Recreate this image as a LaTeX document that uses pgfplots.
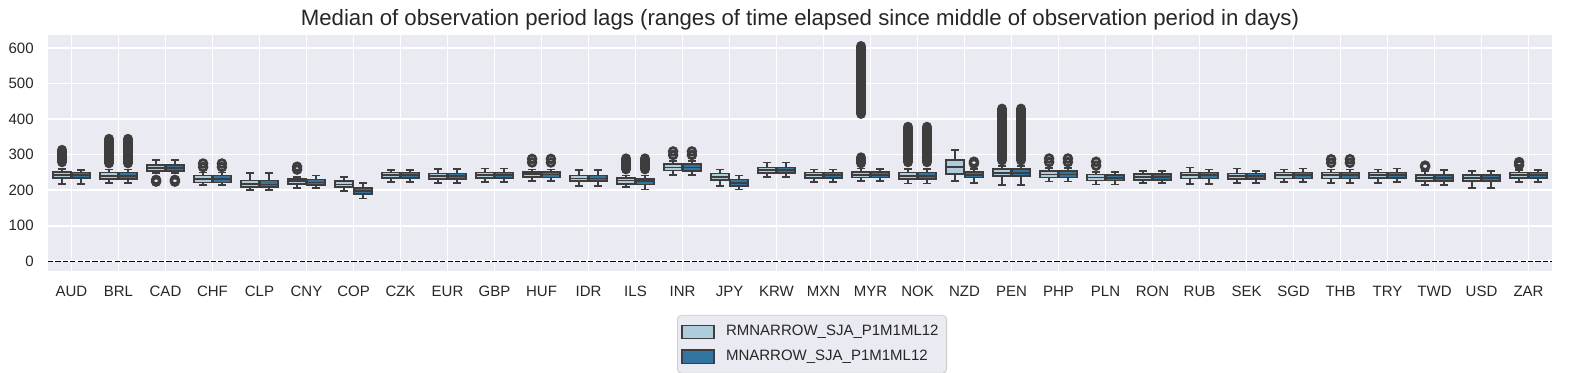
\documentclass[border=0pt]{standalone}
\usepackage{fontspec}
\setmainfont{Liberation Sans}
\usepackage{pgfplots}
\pgfplotsset{compat=1.18}
\definecolor{bg}{HTML}{EAEAF2}
\definecolor{lc}{HTML}{AECCDB}
\definecolor{dc}{HTML}{3275A1}
\definecolor{gc}{HTML}{3D3D3D}
\definecolor{txt}{HTML}{262626}
\definecolor{lframe}{HTML}{CCCCCC}

\pgfplotsset{
  band/.style={gc, line width=5.2pt, line cap=round, forget plot},
  ring/.style={only marks, mark=o, mark size=1.9pt, mark options={draw=gc, line width=1.4pt}, forget plot},
}
% \bx{position}{fill}{lower whisker}{lower quartile}{median}{upper quartile}{upper whisker}
\newcommand{\bx}[7]{%
  \pgfmathsetmacro\bxL{#1-0.19}\pgfmathsetmacro\bxR{#1+0.19}%
  \pgfmathsetmacro\bxCL{#1-0.085}\pgfmathsetmacro\bxCR{#1+0.085}%
  \edef\bxtmp{%
    \noexpand\addplot[draw=gc, fill=#2, line width=0.85pt, forget plot]
      coordinates {(\bxL,#4) (\bxR,#4) (\bxR,#6) (\bxL,#6)} -- cycle;
    \noexpand\addplot[gc, line width=0.85pt, unbounded coords=jump, forget plot]
      coordinates {(#1,#3) (#1,#4) (#1,nan) (#1,#6) (#1,#7) (#1,nan)
                   (\bxCL,#3) (\bxCR,#3) (#1,nan) (\bxCL,#7) (\bxCR,#7) (#1,nan)
                   (\bxL,#5) (\bxR,#5)};
  }\bxtmp}

\begin{document}
\begin{tikzpicture}
\begin{axis}[
  name=ax,
  scale only axis, width=752pt, height=118pt,
  xmin=-0.5, xmax=31.5, ymin=-27.3, ymax=636.5,
  axis background/.style={fill=bg},
  axis line style={draw=none},
  grid=major, major grid style={white, line width=0.8pt},
  major tick length=0pt,
  xtick={0,...,31},
  xticklabels={AUD,BRL,CAD,CHF,CLP,CNY,COP,CZK,EUR,GBP,HUF,IDR,ILS,INR,JPY,KRW,MXN,MYR,NOK,NZD,PEN,PHP,PLN,RON,RUB,SEK,SGD,THB,TRY,TWD,USD,ZAR},
  ytick={0,100,...,600},
  tick label style={font=\fontsize{7.5}{9}\selectfont, text=txt},
  /pgf/number format/assume math mode=true,
  xticklabel style={anchor=north, inner sep=0pt, yshift=-7.5pt},
  yticklabel style={anchor=east, inner sep=0pt, xshift=-7pt},
  title={Median of observation period lags (ranges of time elapsed since middle of observation period in days)},
  title style={font=\fontsize{11.1}{13}\selectfont, text=txt, at={(0.5,1)}, anchor=base, yshift=-1.5pt, inner sep=0pt},
  legend style={at={(0.508,-0.186)}, anchor=north, fill=bg, draw=lframe, rounded corners=2pt,
    font=\fontsize{7.5}{9}\selectfont, text=txt, row sep=1.5pt, inner xsep=2pt, inner ysep=3pt},
  legend cell align=left,
  legend image code/.code={\draw[#1, sharp corners] (0pt,-3.3pt) rectangle (16pt,3.3pt); \path[draw=none, fill=none] (16pt,0pt) -- (20pt,0pt);},
]
% zero line
\addplot[black, line width=0.75pt, dash pattern=on 2.6pt off 1.1pt, forget plot] coordinates {(-0.5,0) (31.5,0)};

% RMNARROW_SJA_P1M1ML12 (light) at i-0.2 ; MNARROW_SJA_P1M1ML12 (dark) at i+0.2
\bx{-0.2}{lc}{217}{234}{243}{251}{259} \bx{0.2}{dc}{217}{234}{242}{250}{257} % AUD
\bx{0.8}{lc}{220}{231}{240}{250}{258}  \bx{1.2}{dc}{220}{231}{240}{250}{258} % BRL
\bx{1.8}{lc}{248}{253}{262}{270}{284}  \bx{2.2}{dc}{248}{253}{262}{270}{284} % CAD
\bx{2.8}{lc}{215}{222}{231}{241}{250}  \bx{3.2}{dc}{215}{222}{231}{241}{250} % CHF
\bx{3.8}{lc}{200}{208}{217}{227}{249}  \bx{4.2}{dc}{200}{208}{216}{227}{249} % CLP
\bx{4.8}{lc}{206}{217}{225}{232}{238}  \bx{5.2}{dc}{206}{215}{222}{230}{241} % CNY
\bx{5.8}{lc}{197}{208}{216}{225}{238}  \bx{6.2}{dc}{177}{189}{197}{207}{220} % COP
\bx{6.8}{lc}{223}{234}{242}{250}{257}  \bx{7.2}{dc}{223}{234}{242}{250}{257} % CZK
\bx{7.8}{lc}{220}{231}{239}{247}{260}  \bx{8.2}{dc}{220}{231}{239}{247}{260} % EUR
\bx{8.8}{lc}{223}{234}{242}{250}{261}  \bx{9.2}{dc}{223}{234}{242}{250}{261} % GBP
\bx{9.8}{lc}{226}{237}{245}{251}{258}  \bx{10.2}{dc}{226}{236}{244}{252}{258} % HUF
\bx{10.8}{lc}{211}{225}{233}{241}{257} \bx{11.2}{dc}{211}{225}{233}{241}{257} % IDR
\bx{11.8}{lc}{209}{217}{227}{235}{241} \bx{12.2}{dc}{202}{216}{225}{232}{241} % ILS
\bx{12.8}{lc}{243}{255}{264}{273}{282} \bx{13.2}{dc}{243}{254}{264}{273}{282} % INR
\bx{13.8}{lc}{211}{229}{238}{247}{258} \bx{14.2}{dc}{202}{211}{220}{230}{241} % JPY
\bx{14.8}{lc}{237}{248}{256}{264}{278} \bx{15.2}{dc}{237}{248}{256}{264}{278} % KRW
\bx{15.8}{lc}{223}{234}{242}{250}{258} \bx{16.2}{dc}{223}{234}{242}{250}{258} % MXN
\bx{16.8}{lc}{225}{236}{243}{251}{261} \bx{17.2}{dc}{225}{236}{243}{251}{259} % MYR
\bx{17.8}{lc}{219}{232}{240}{250}{260} \bx{18.2}{dc}{219}{232}{240}{250}{260} % NOK
\bx{18.8}{lc}{225}{246}{266}{284}{314} \bx{19.2}{dc}{220}{236}{243}{251}{260} % NZD
\bx{19.8}{lc}{215}{240}{249}{259}{268} \bx{20.2}{dc}{215}{240}{249}{259}{268} % PEN
\bx{20.8}{lc}{224}{236}{244}{253}{262} \bx{21.2}{dc}{224}{236}{244}{253}{262} % PHP
\bx{21.8}{lc}{216}{227}{236}{244}{252} \bx{22.2}{dc}{216}{227}{234}{242}{252} % PLN
\bx{22.8}{lc}{220}{229}{237}{245}{254} \bx{23.2}{dc}{220}{229}{237}{245}{254} % RON
\bx{23.8}{lc}{217}{233}{242}{250}{264} \bx{24.2}{dc}{217}{233}{242}{250}{258} % RUB
\bx{24.8}{lc}{220}{231}{239}{247}{261} \bx{25.2}{dc}{220}{231}{239}{247}{254} % SEK
\bx{25.8}{lc}{223}{233}{242}{250}{258} \bx{26.2}{dc}{223}{233}{242}{250}{261} % SGD
\bx{26.8}{lc}{220}{233}{242}{250}{258} \bx{27.2}{dc}{220}{233}{242}{250}{258} % THB
\bx{27.8}{lc}{220}{234}{242}{250}{258} \bx{28.2}{dc}{223}{234}{242}{250}{261} % TRY
\bx{28.8}{lc}{214}{226}{234}{243}{253} \bx{29.2}{dc}{214}{226}{234}{243}{257} % TWD
\bx{29.8}{lc}{206}{226}{234}{243}{254} \bx{30.2}{dc}{206}{226}{234}{243}{254} % USD
\bx{30.8}{lc}{223}{234}{242}{250}{257} \bx{31.2}{dc}{223}{234}{242}{250}{257} % ZAR

% dense outlier runs
\addplot[band] coordinates {(-0.2,279) (-0.2,313)};
\addplot[band] coordinates {(0.8,276) (0.8,344)};
\addplot[band] coordinates {(1.2,276) (1.2,344)};
\addplot[band] coordinates {(11.8,259) (11.8,289)};
\addplot[band] coordinates {(12.2,259) (12.2,289)};
\addplot[band] coordinates {(16.8,415) (16.8,605)};
\addplot[band] coordinates {(16.8,276) (16.8,292)};
\addplot[band] coordinates {(17.8,279) (17.8,378)};
\addplot[band] coordinates {(18.2,279) (18.2,378)};
\addplot[band] coordinates {(19.8,284) (19.8,429)};
\addplot[band] coordinates {(20.2,284) (20.2,429)};
% small outlier clusters
\addplot[ring] coordinates {(1.8,224) (1.8,229) (2.2,224) (2.2,229)};
\addplot[ring] coordinates {(2.8,265) (2.8,275) (3.2,265) (3.2,275)};
\addplot[ring] coordinates {(4.8,258) (4.8,266)};
\addplot[ring] coordinates {(9.8,278) (9.8,288) (10.2,278) (10.2,288)};
\addplot[ring] coordinates {(12.8,299) (12.8,309) (13.2,299) (13.2,309)};
\addplot[ring] coordinates {(19.2,275) (19.2,280)};
\addplot[ring] coordinates {(20.8,279) (20.8,289) (21.2,279) (21.2,289)};
\addplot[ring] coordinates {(21.8,269) (21.8,280)};
\addplot[ring] coordinates {(26.8,277) (26.8,287) (27.2,277) (27.2,287)};
\addplot[ring] coordinates {(28.8,266) (28.8,269)};
\addplot[ring] coordinates {(30.8,271) (30.8,279)};

\addlegendimage{fill=lc, draw=gc, line width=0.6pt}
\addlegendentry{RMNARROW\_SJA\_P1M1ML12}
\addlegendimage{fill=dc, draw=gc, line width=0.6pt}
\addlegendentry{MNARROW\_SJA\_P1M1ML12}

\coordinate (SW) at (rel axis cs:0,0);
\coordinate (NE) at (rel axis cs:1,1);
\end{axis}
\pgfresetboundingbox
\path[use as bounding box] ([shift={(-24pt,-51pt)}]SW) rectangle ([shift={(16pt,17.5pt)}]NE);
\end{tikzpicture}
\end{document}
